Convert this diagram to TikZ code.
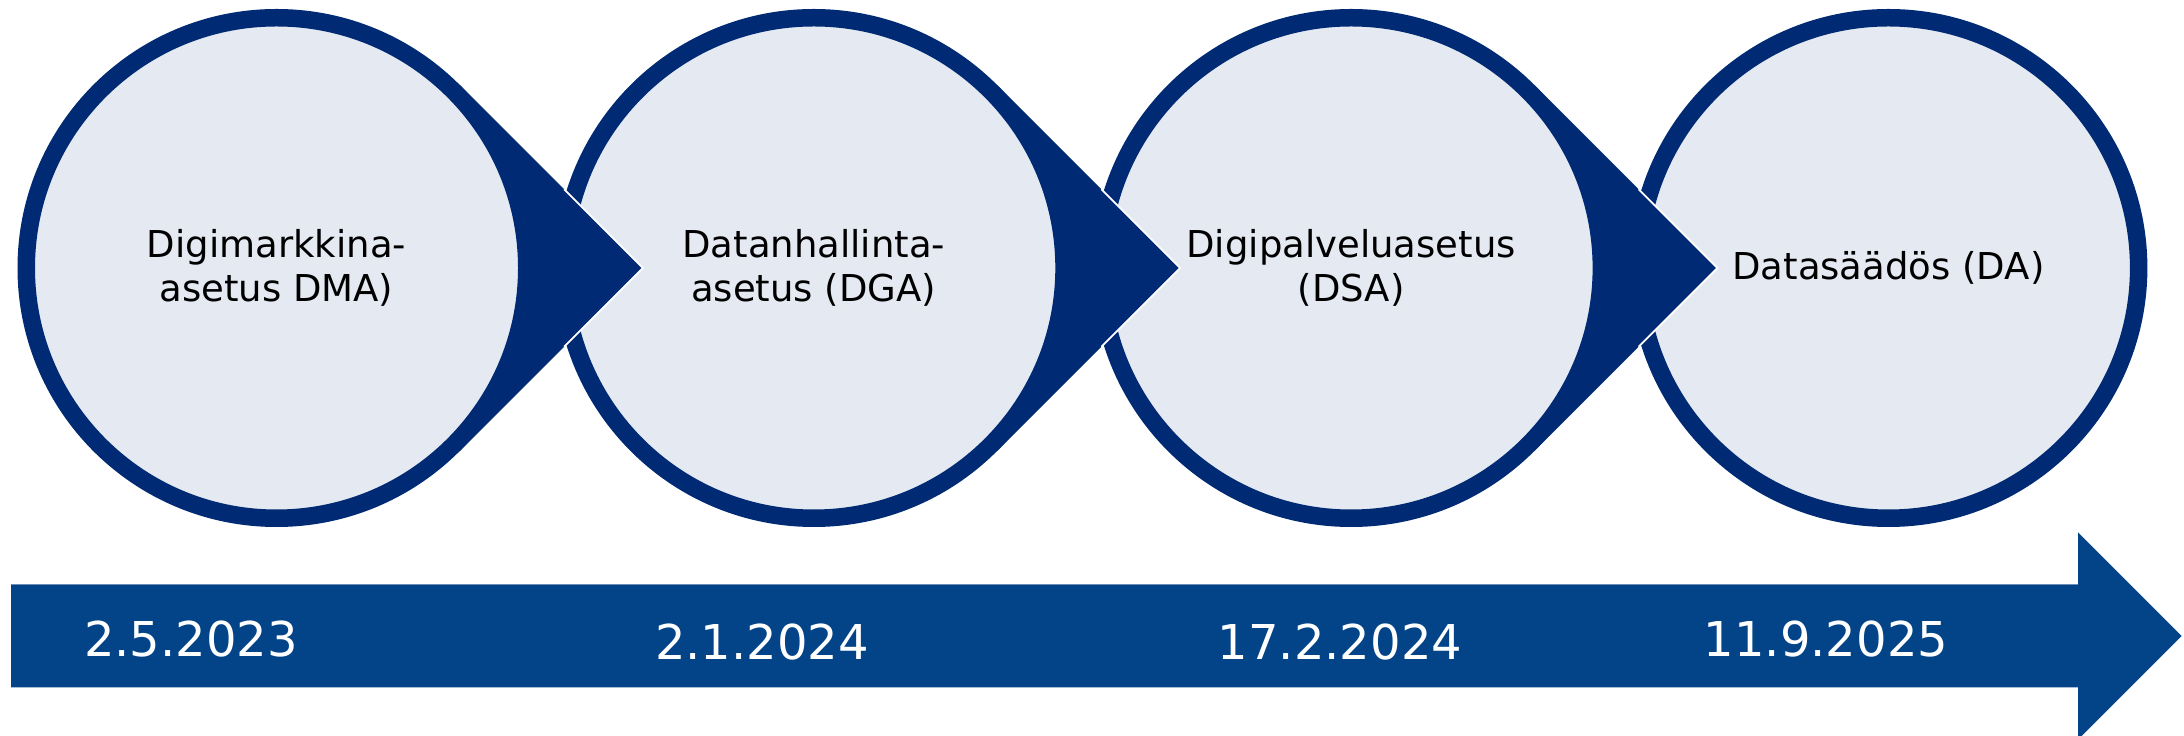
\documentclass[tikz,border=0pt]{standalone}
\usepackage{fontspec}
\setmainfont{DejaVu Sans}
\definecolor{ringblue}{RGB}{0,42,115}
\definecolor{innerfill}{RGB}{228,233,242}
\definecolor{barblue}{RGB}{3,67,136}
\definecolor{baredge}{RGB}{110,140,180}
\begin{document}
\begin{tikzpicture}[x=1pt,y=1pt,
  circ/.style={circle, minimum size=500.5pt, inner sep=0pt, line width=17.5pt,
    draw=ringblue, fill=innerfill, align=center, text=black,
    font=\fontsize{37}{44}\selectfont},
  chev/.style={fill=ringblue},
  chevedge/.style={draw=white, line width=1.8pt, line join=miter},
  datelabel/.style={anchor=base, text=white, inner sep=0pt,
    font=\fontsize{48}{58}\selectfont},
  timebar/.style={fill=barblue}]
\useasboundingbox (0,0) rectangle (2184,736);
% timeline arrow
\fill[timebar] (11,48.5) -- (2078,48.5) -- (2078,-3.5) -- (2181.5,100)
  -- (2078,203.5) -- (2078,151.7) -- (11,151.7) -- cycle;
\draw[baredge, line width=0.8pt] (11,151.3) -- (2078,151.3);
% circle centres and chevron points
\coordinate (o1) at (276.5,468);
\coordinate (o2) at (813.8,468);
\coordinate (o3) at (1351.1,468);
\coordinate (o4) at (1888.4,468);
\foreach \i in {1,2,3}{
  \path (o\i) ++(45:259pt) coordinate (ta\i)
        (o\i) ++(-45:259pt) coordinate (tb\i)
        (o\i) ++(366.3pt,0pt) coordinate (tip\i);
}
\node[circ] (c4) at (o4) {Datasäädös (DA)};
\fill[chev] (ta3) -- (tip3) -- (tb3) -- cycle;
\begin{scope}
  \clip (o4) circle (262pt);
  \draw[chevedge] (ta3) -- (tip3) -- (tb3);
\end{scope}
\node[circ] (c3) at (o3) {Digipalveluasetus\\(DSA)};
\fill[chev] (ta2) -- (tip2) -- (tb2) -- cycle;
\begin{scope}
  \clip (o3) circle (262pt);
  \draw[chevedge] (ta2) -- (tip2) -- (tb2);
\end{scope}
\node[circ] (c2) at (o2) {Datanhallinta-\\asetus (DGA)};
\fill[chev] (ta1) -- (tip1) -- (tb1) -- cycle;
\begin{scope}
  \clip (o2) circle (262pt);
  \draw[chevedge] (ta1) -- (tip1) -- (tb1);
\end{scope}
\node[circ] (c1) at (o1) {Digimarkkina-\\asetus DMA)};
% dates
\node[datelabel] (d1) at (191,79) {2.5.2023};
\node[datelabel] (d2) at (762,76) {2.1.2024};
\node[datelabel] (d3) at (1340,76) {17.2.2024};
\node[datelabel] (d4) at (1826,79) {11.9.2025};
\end{tikzpicture}
\end{document}
